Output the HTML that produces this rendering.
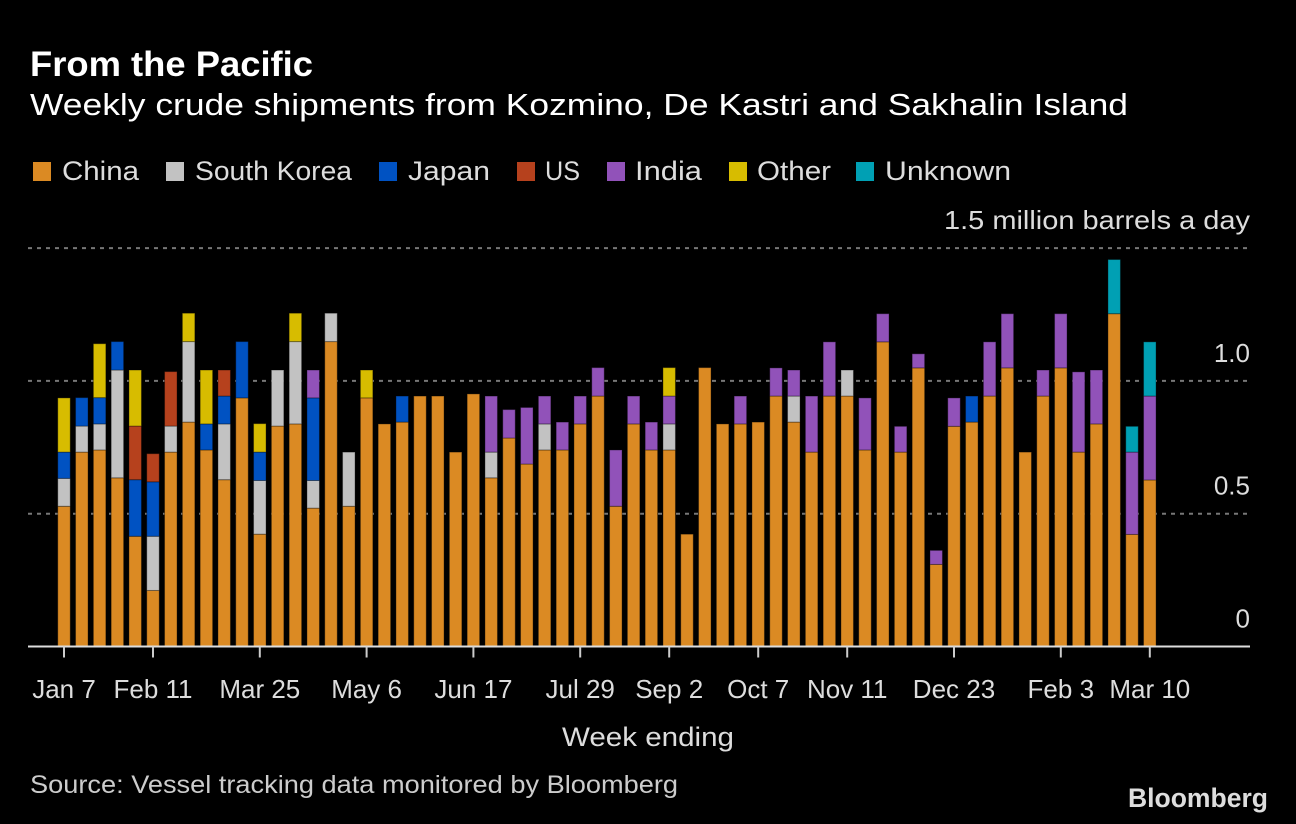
<!DOCTYPE html>
<html><head><meta charset="utf-8"><style>
html,body{margin:0;padding:0;background:#000;}
svg{display:block;font-family:"Liberation Sans",sans-serif;}
</style></head><body>
<svg id="chart" width="1296" height="824" viewBox="0 0 1296 824" xmlns="http://www.w3.org/2000/svg">
<rect x="0" y="0" width="1296" height="824" fill="#000"/>
<text x="30" y="76" fill="#fff" font-size="35" font-weight="bold" textLength="283" lengthAdjust="spacingAndGlyphs">From the Pacific</text>
<text x="30" y="115" fill="#fff" font-size="31" textLength="1098" lengthAdjust="spacingAndGlyphs">Weekly crude shipments from Kozmino, De Kastri and Sakhalin Island</text>
<g id="legend"></g>
<g id="grid"></g>
<g id="bars"></g>
<g id="xaxis"></g>
<text x="648" y="746" fill="#ddd" font-size="27" text-anchor="middle" textLength="172" lengthAdjust="spacingAndGlyphs">Week ending</text>
<text x="30" y="793" fill="#ccc" font-size="25" textLength="648" lengthAdjust="spacingAndGlyphs">Source: Vessel tracking data monitored by Bloomberg</text>
<text x="1268" y="807" fill="#ddd" font-size="27" font-weight="bold" text-anchor="end" textLength="140" lengthAdjust="spacingAndGlyphs">Bloomberg</text>
</svg>
<script>
const seriesNames = ["China","South Korea","Japan","US","India","Other","Unknown"];
const seriesColors = ["#db8a23","#c2c2c2","#0052c2","#b6411d","#9152b9","#d7bc00","#00a0b4"];
const china = [.528,.732,.74,.635,.415,.211,.732,.845,.74,.628,.936,.423,.83,.838,.521,1.148,.528,.936,.838,.845,.943,.943,.732,.951,.635,.785,.687,.74,.74,.838,.943,.528,.838,.74,.74,.423,1.05,.838,.838,.845,.943,.845,.732,.943,.943,.74,1.147,.732,1.049,.309,.829,.845,.943,1.049,.732,.943,1.049,.732,.838,1.253,.422,.627];
const southKorea = [.105,.098,.098,.406,0,.204,.098,.303,0,.21,0,.202,.211,.31,.104,.107,.204,0,0,0,0,0,0,0,.097,0,0,.098,0,0,0,0,0,0,.098,0,0,0,0,0,0,.098,0,0,.098,0,0,0,0,0,0,0,0,0,0,0,0,0,0,0,0,0];
const japan = [.099,.107,.099,.107,.213,.205,0,0,.098,.105,.212,.107,0,0,.311,0,0,0,0,.098,0,0,0,0,0,0,0,0,0,0,0,0,0,0,0,0,0,0,0,0,0,0,0,0,0,0,0,0,0,0,0,.098,0,0,0,0,0,0,0,0,0,0];
const us = [0,0,0,0,.202,.106,.205,0,0,.098,0,0,0,0,0,0,0,0,0,0,0,0,0,0,0,0,0,0,0,0,0,0,0,0,0,0,0,0,0,0,0,0,0,0,0,0,0,0,0,0,0,0,0,0,0,0,0,0,0,0,0,0];
const india = [0,0,0,0,0,0,0,0,0,0,0,0,0,0,.105,0,0,0,0,0,0,0,0,0,.211,.107,.213,.105,.105,.105,.107,.212,.105,.105,.105,0,0,0,.105,0,.106,.098,.211,.204,0,.196,.106,.097,.053,.053,.107,0,.204,.204,0,.098,.204,.302,.203,0,.31,.316];
const other = [.204,0,.203,0,.211,0,0,.107,.203,0,0,.107,0,.107,0,0,0,.105,0,0,0,0,0,0,0,0,0,0,0,0,0,0,0,0,.107,0,0,0,0,0,0,0,0,0,0,0,0,0,0,0,0,0,0,0,0,0,0,0,0,0,0,0];
const unknown = [0,0,0,0,0,0,0,0,0,0,0,0,0,0,0,0,0,0,0,0,0,0,0,0,0,0,0,0,0,0,0,0,0,0,0,0,0,0,0,0,0,0,0,0,0,0,0,0,0,0,0,0,0,0,0,0,0,0,0,.204,.097,.204];
const yTicks = [0,0.5,1.0,1.5];
const yTickLabels = ["0","0.5","1.0","1.5 million barrels a day"];
const xTickIndex = [0,5,11,17,23,29,34,39,44,50,56,61];
const xTickLabels = ["Jan 7","Feb 11","Mar 25","May 6","Jun 17","Jul 29","Sep 2","Oct 7","Nov 11","Dec 23","Feb 3","Mar 10"];

const NS="http://www.w3.org/2000/svg";
const y0=646.5, yUnit=265.6, x0=64, step=17.8, bw=12.5;
const yScale=v=>y0-v*yUnit;
const xScale=i=>x0+i*step;
function mk(tag,attrs,parent){const e=document.createElementNS(NS,tag);for(const k in attrs)e.setAttribute(k,attrs[k]);parent.appendChild(e);return e;}

const series=[china,southKorea,japan,us,india,other,unknown];
const gGrid=document.getElementById('grid');
yTicks.forEach((t,i)=>{
  if(t>0){
    const l=mk('line',{x1:28,x2:1250,y1:yScale(t),y2:yScale(t),stroke:'#777','stroke-width':2,'stroke-dasharray':'4,5'},gGrid);
    
    
  }
  const tx=mk('text',{x:1250,y:yScale(t)-19,fill:'#ddd','font-size':26,'text-anchor':'end'},gGrid);
  tx.textContent=yTickLabels[i];
  if(i===3){tx.setAttribute('textLength','306');tx.setAttribute('lengthAdjust','spacingAndGlyphs');}
  
  
});

const gBars=document.getElementById('bars');
for(let i=0;i<china.length;i++){
  let acc=0;
  series.forEach((s,k)=>{
    const v=s[i]; if(!v) return;
    const r=mk('rect',{x:xScale(i)-bw/2,y:yScale(acc+v),width:bw,height:yScale(acc)-yScale(acc+v),fill:seriesColors[k],stroke:'rgba(0,0,0,0.35)','stroke-width':1},gBars);
    
    
    acc+=v;
  });
}

const gX=document.getElementById('xaxis');
const ax=mk('line',{x1:28,x2:1250,y1:y0,y2:y0,stroke:'#ddd','stroke-width':2},gX);


xTickIndex.forEach((ix,j)=>{
  const t=mk('line',{x1:xScale(ix),x2:xScale(ix),y1:y0,y2:y0+11,stroke:'#ccc','stroke-width':2},gX);
  
  
  const tx=mk('text',{x:xScale(ix),y:698,fill:'#ddd','font-size':26,'text-anchor':'middle'},gX);
  tx.textContent=xTickLabels[j];
  
  
});

const gL=document.getElementById('legend');
const legSq=[33,166,379,517,607,729,856];
const legTx=[[62,77],[195,157],[408,82],[545,35],[635,67],[757,74],[885,126]];
seriesNames.forEach((n,k)=>{
  const sq=mk('rect',{x:legSq[k],y:162,width:18,height:19,fill:seriesColors[k]},gL);
  
  
  const tx=mk('text',{x:legTx[k][0],y:180,fill:'#ddd','font-size':27,textLength:legTx[k][1],lengthAdjust:'spacingAndGlyphs'},gL);
  tx.textContent=n;
  
  
});
</script>
</body></html>
